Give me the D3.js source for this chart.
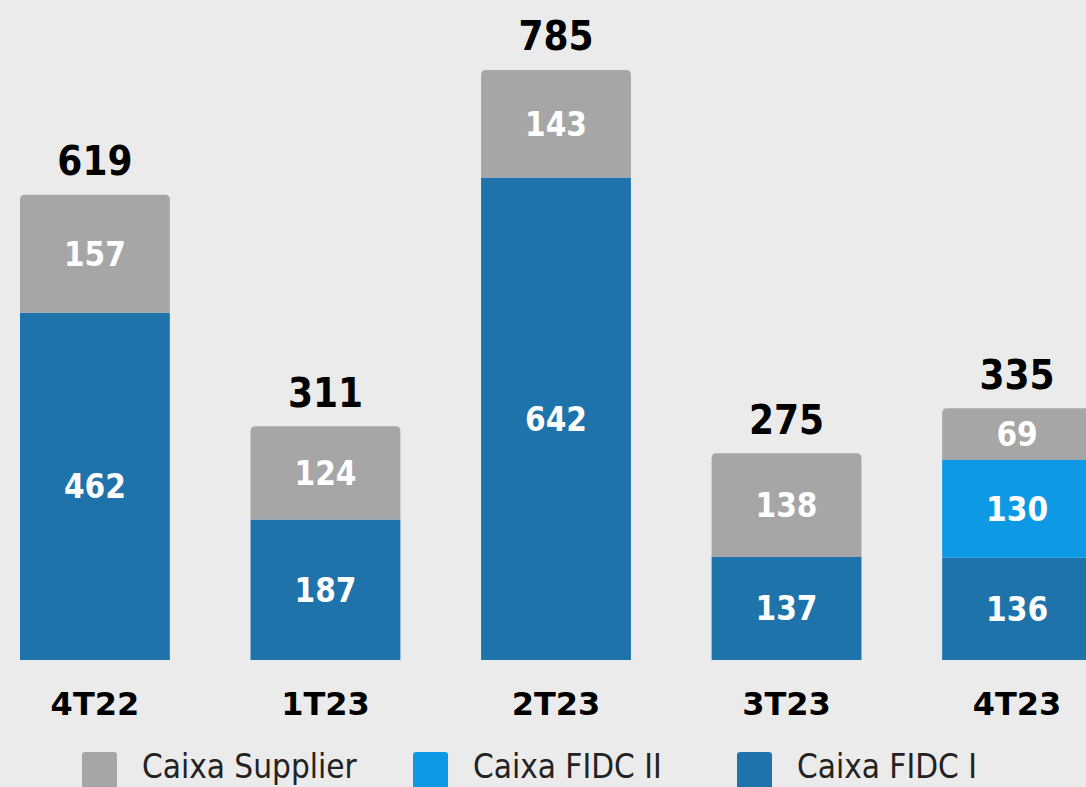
<!DOCTYPE html>
<html>
<head>
<meta charset="utf-8">
<script src="https://cdn.jsdelivr.net/npm/d3@7"></script>
<style>
  html, body { margin: 0; padding: 0; background: #ebebeb; overflow: hidden; }
  svg { display: block; font-family: "DejaVu Sans", Verdana, sans-serif; }
  .cond { font-family: "DejaVu Sans Condensed", "DejaVu Sans", sans-serif; font-stretch: condensed; }
</style>
</head>
<body>
<svg></svg>
<script>
var categories = ['4T22', '1T23', '2T23', '3T23', '4T23'];
var fidcI = [462, 187, 642, 137, 136];
var fidcII = [0, 0, 0, 0, 130];
var supplier = [157, 124, 143, 138, 69];
var totals = [619, 311, 785, 275, 335];
var seriesNames = ['Caixa FIDC I', 'Caixa FIDC II', 'Caixa Supplier'];
var legendOrder = ['Caixa Supplier', 'Caixa FIDC II', 'Caixa FIDC I'];

var width = 1086;
var height = 787;
var colors = {
    'Caixa FIDC I': '#1f73ab',
    'Caixa FIDC II': '#0d99e4',
    'Caixa Supplier': '#a6a6a6'
};

var rows = categories.map(function(c, i) {
    return { cat: c, 'Caixa FIDC I': fidcI[i], 'Caixa FIDC II': fidcII[i], 'Caixa Supplier': supplier[i], total: totals[i] };
});

var stack = d3.stack().keys(seriesNames)(rows);

var x = d3.scaleBand()
    .domain(categories)
    .range([20, 1092])
    .paddingInner(0.35)
    .paddingOuter(0);

var y = d3.scaleLinear()
    .domain([0, d3.max(totals)])
    .range([660, 70]);

var svg = d3.select('svg')
    .attr('width', width)
    .attr('height', height);

// segment path, top one of each bar gets rounded corners
function segPath(x0, w, yTop, yBot, r) {
    if (!r) return 'M' + x0 + ',' + yBot + 'V' + yTop + 'H' + (x0 + w) + 'V' + yBot + 'Z';
    return 'M' + x0 + ',' + yBot +
        'V' + (yTop + r) +
        'Q' + x0 + ',' + yTop + ' ' + (x0 + r) + ',' + yTop +
        'H' + (x0 + w - r) +
        'Q' + (x0 + w) + ',' + yTop + ' ' + (x0 + w) + ',' + (yTop + r) +
        'V' + yBot + 'Z';
}

stack.forEach(function(layer, li) {
    var g = svg.append('g');
    var segs = layer.filter(function(d) { return d[1] - d[0] > 0; });
    g.selectAll('path')
        .data(segs)
        .enter()
        .append('path')
        .attr('fill', colors[layer.key])
        .attr('d', function(d) {
            var isTop = li === stack.length - 1;
            return segPath(x(d.data.cat), x.bandwidth(), y(d[1]), y(d[0]), isTop ? 5 : 0);
        });

    g.selectAll('text')
        .data(segs)
        .enter()
        .append('text')
        .classed('cond', true)
        .attr('x', function(d) { return x(d.data.cat) + x.bandwidth() / 2; })
        .attr('y', function(d) { return (y(d[0]) + y(d[1])) / 2; })
        .attr('dy', '0.36em')
        .attr('text-anchor', 'middle')
        .attr('fill', '#ffffff')
        .attr('font-weight', 'bold')
        .attr('font-size', '33px')
        .text(function(d) { return d[1] - d[0]; });
});

// totals above bars
svg.append('g')
    .selectAll('text')
    .data(rows)
    .enter()
    .append('text')
    .classed('cond', true)
    .attr('x', function(d) { return x(d.cat) + x.bandwidth() / 2; })
    .attr('y', function(d) { return y(d.total) - 34; })
    .attr('dy', '0.36em')
    .attr('text-anchor', 'middle')
    .attr('fill', '#000')
    .attr('font-weight', 'bold')
    .attr('font-size', '40px')
    .text(function(d) { return d.total; });

// category axis
var xAxis = d3.axisBottom(x).tickSize(0).tickPadding(32);
var ax = svg.append('g')
    .attr('transform', 'translate(0,' + y(0) + ')')
    .call(xAxis);
ax.select('.domain').remove();
ax.selectAll('text')
    .attr('fill', '#000')
    .attr('font-size', '32px')
    .attr('font-weight', 'bold')
    .attr('font-family', '"DejaVu Sans", sans-serif');

// legend
var legendX = [82, 413, 737];
var legend = svg.append('g')
    .selectAll('g')
    .data(legendOrder)
    .enter()
    .append('g')
    .attr('transform', function(d, i) { return 'translate(' + legendX[i] + ',752)'; });

legend.append('rect')
    .attr('width', 35)
    .attr('height', 44)
    .attr('rx', 3)
    .attr('fill', function(d) { return colors[d]; });

legend.append('text')
    .classed('cond', true)
    .attr('x', 60)
    .attr('y', 26)
    .attr('fill', '#222')
    .attr('font-size', '33px')
    .text(function(d) { return d; });
</script>
</body>
</html>
